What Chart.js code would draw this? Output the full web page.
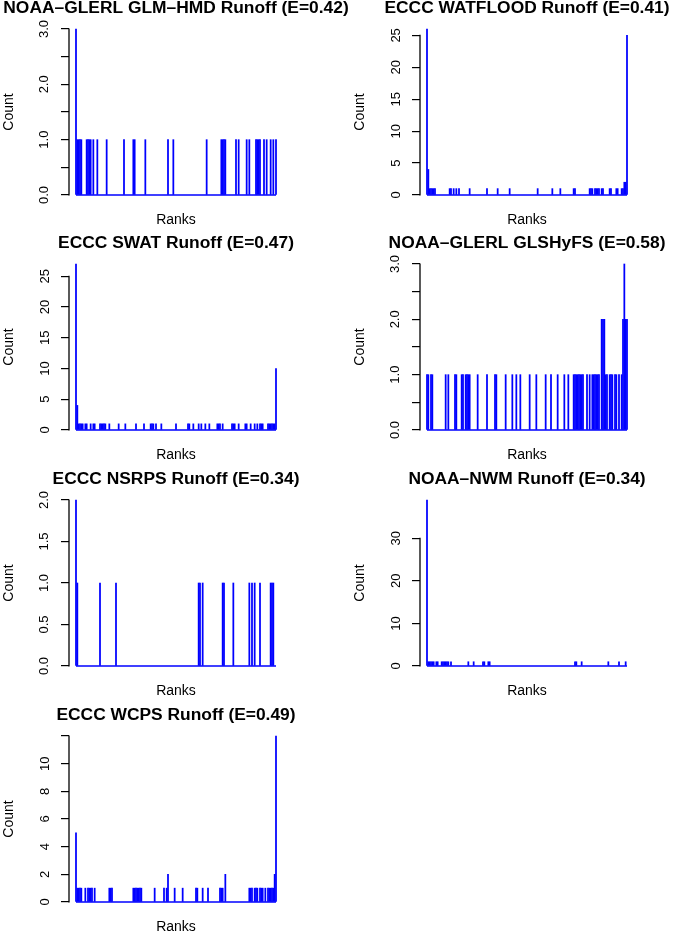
<!DOCTYPE html>
<html>
<head>
<meta charset="utf-8">
<script src="https://cdn.jsdelivr.net/npm/chart.js@4.4.1/dist/chart.umd.min.js"></script>
<style>
html, body { margin: 0; padding: 0; background: #fff; width: 673px; height: 933px; overflow: hidden; position: relative; }
canvas { position: absolute; }
</style>
</head>
<body>
<canvas id="c1" width="392" height="236"></canvas>
<canvas id="c2" width="392" height="236"></canvas>
<canvas id="c3" width="392" height="236"></canvas>
<canvas id="c4" width="392" height="236"></canvas>
<canvas id="c5" width="392" height="236"></canvas>
<canvas id="c6" width="392" height="236"></canvas>
<canvas id="c7" width="392" height="236"></canvas>
<script>
// ranks run 0..150, only the non-empty bins are listed
const lastRank = 150;

const glmRanks = [0,1,2,3,4, 8,9,10,11,13, 16,23,36,43,44, 52,69,73,98,109, 110,111,112,120,122, 128,130,135,136,137, 138,141,143,146,148, 150];
const glmCounts = [3,1,1,1,1, 1,1,1,1,1, 1,1,1,1,1, 1,1,1,1,1, 1,1,1,1,1, 1,1,1,1,1, 1,1,1,1,1, 1];

const watRanks = [0,1,2,3,4, 5,6,17,18,20, 22,24,32,45,53, 62,83,94,100,110, 111,122,123,124,126, 127,128,129,131,132, 137,138,142,143,146, 147,148,149,150];
const watCounts = [26,4,1,1,1, 1,1,1,1,1, 1,1,1,1,1, 1,1,1,1,1, 1,1,1,1,1, 1,1,1,1,1, 1,1,1,1,1, 1,2,2,25];

const swatRanks = [0,1,2,3,4, 5,7,8,11,13, 14,18,19,20,21, 22,25,32,37,45, 51,56,57,58,60, 64,75,84,85,88, 92,94,97,100,106, 107,108,110,117,118, 119,122,127,128,131, 134,136,138,139,140, 144,145,146,147,148, 149,150];
const swatCounts = [27,4,1,1,1, 1,1,1,1,1, 1,1,1,1,1, 1,1,1,1,1, 1,1,1,1,1, 1,1,1,1,1, 1,1,1,1,1, 1,1,1,1,1, 1,1,1,1,1, 1,1,1,1,1, 1,1,1,1,1, 1,10];

const glsRanks = [0,1,3,4,14, 16,21,22,26,27, 29,30,31,32,38, 45,51,52,59,64, 67,70,77,82,89, 93,98,103,106,110, 111,112,113,114,115, 116,117,120,122,124, 125,126,127,128,129, 131,132,133,134,135, 137,138,139,141,142, 144,146,147,148,149, 150];
const glsCounts = [1,1,1,1,1, 1,1,1,1,1, 1,1,1,1,1, 1,1,1,1,1, 1,1,1,1,1, 1,1,1,1,1, 1,1,1,1,1, 1,1,1,1,1, 1,1,1,1,1, 2,2,2,1,1, 1,1,1,1,1, 1,1,2,3,2, 2];

const nsrpsRanks = [0,1,18,30,92, 93,95,110,111,118, 130,132,134,138,146, 147,148];
const nsrpsCounts = [2,1,1,1,1, 1,1,1,1,1, 1,1,1,1,1, 1,1];

const nwmRanks = [0,1,2,3,4, 5,7,8,11,12, 13,14,15,16,18, 31,35,42,43,46, 47,111,112,116,136, 144,149];
const nwmCounts = [39,1,1,1,1, 1,1,1,1,1, 1,1,1,1,1, 1,1,1,1,1, 1,1,1,1,1, 1,1];

const wcpsRanks = [0,1,2,3,4, 7,9,10,11,12, 14,25,26,27,43, 44,45,46,47,48, 49,59,66,68,69, 74,80,90,91,95, 99,108,109,110,112, 130,131,132,134,135, 136,138,139,140,142, 144,145,146,147,148, 149,150];
const wcpsCounts = [5,1,1,1,1, 1,1,1,1,1, 1,1,1,1,1, 1,1,1,1,1, 1,1,1,1,2, 1,1,1,1,1, 1,1,1,1,2, 1,1,1,1,1, 1,1,1,1,1, 1,1,1,1,1, 2,12];

// y axis ticks and their printed labels
const ticksHalf3 = [0, 0.5, 1, 1.5, 2, 2.5, 3];
const labelsHalf3 = ['0.0', '', '1.0', '', '2.0', '', '3.0'];
const ticksFive = [0, 5, 10, 15, 20, 25];
const labelsFive = ['0', '5', '10', '15', '20', '25'];
const ticksHalf2 = [0, 0.5, 1, 1.5, 2];
const labelsHalf2 = ['0.0', '0.5', '1.0', '1.5', '2.0'];
const ticksTen = [0, 10, 20, 30];
const labelsTen = ['0', '10', '20', '30'];
const ticksTwo = [0, 2, 4, 6, 8, 10, 12];
const labelsTwo = ['0', '2', '4', '6', '8', '10', ''];

const titles = [
    'NOAA\u2013GLERL GLM\u2013HMD Runoff (E=0.42)',
    'ECCC WATFLOOD Runoff (E=0.41)',
    'ECCC SWAT Runoff (E=0.47)',
    'NOAA\u2013GLERL GLSHyFS (E=0.58)',
    'ECCC NSRPS Runoff (E=0.34)',
    'NOAA\u2013NWM Runoff (E=0.34)',
    'ECCC WCPS Runoff (E=0.49)'
];

const panels = [
    { id: 'c1', title: titles[0], ranks: glmRanks, counts: glmCounts, yMax: 3, ticks: ticksHalf3, labels: labelsHalf3 },
    { id: 'c2', title: titles[1], ranks: watRanks, counts: watCounts, yMax: 26, ticks: ticksFive, labels: labelsFive },
    { id: 'c3', title: titles[2], ranks: swatRanks, counts: swatCounts, yMax: 27, ticks: ticksFive, labels: labelsFive },
    { id: 'c4', title: titles[3], ranks: glsRanks, counts: glsCounts, yMax: 3, ticks: ticksHalf3, labels: labelsHalf3 },
    { id: 'c5', title: titles[4], ranks: nsrpsRanks, counts: nsrpsCounts, yMax: 2, ticks: ticksHalf2, labels: labelsHalf2 },
    { id: 'c6', title: titles[5], ranks: nwmRanks, counts: nwmCounts, yMax: 39, ticks: ticksTen, labels: labelsTen },
    { id: 'c7', title: titles[6], ranks: wcpsRanks, counts: wcpsCounts, yMax: 12, ticks: ticksTwo, labels: labelsTwo }
];

const colLeft = [-20, 331];
const rowTop = [0, 235, 471, 707];
const FONT = '"Liberation Sans", Arial, Helvetica, sans-serif';
Chart.defaults.font.family = FONT;
Chart.defaults.color = '#000';

// R draws the axis line only between the first and last tick
const axisLine = {
    id: 'axisLine',
    afterDraw(chart) {
        const s = chart.scales.y;
        const ctx = chart.ctx;
        const yA = s.getPixelForValue(s.ticks[0].value);
        const yB = s.getPixelForValue(s.ticks[s.ticks.length - 1].value);
        ctx.save();
        ctx.strokeStyle = '#000';
        ctx.lineWidth = 1.3;
        ctx.beginPath();
        ctx.moveTo(s.right, yA + 0.6);
        ctx.lineTo(s.right, yB - 0.6);
        ctx.stroke();
        ctx.restore();
    }
};

panels.forEach((p, i) => {
    const cv = document.getElementById(p.id);
    cv.style.left = colLeft[i % 2] + 'px';
    cv.style.top = rowTop[Math.floor(i / 2)] + 'px';
    cv.style.width = '392px';
    cv.style.height = '236px';

    new Chart(cv, {
        type: 'line',
        data: {
            datasets: [
                {
                    // zero line across all ranks
                    type: 'line',
                    data: [{ x: 0, y: 0 }, { x: lastRank, y: 0 }],
                    borderColor: '#0000ff',
                    borderWidth: 1.5,
                    pointRadius: 0,
                    clip: false
                },
                {
                    // one spike per rank
                    type: 'bar',
                    data: p.ranks.map((r, k) => ({ x: r, y: p.counts[k] })),
                    backgroundColor: '#0000ff',
                    borderWidth: 0,
                    barThickness: 1.1,
                    grouped: false,
                    clip: false
                }
            ]
        },
        options: {
            responsive: false,
            animation: false,
            devicePixelRatio: 1,
            layout: { padding: 0 },
            plugins: {
                legend: { display: false },
                tooltip: { enabled: false },
                title: {
                    display: true,
                    text: p.title,
                    color: '#000',
                    font: { size: 17.4, weight: 'bold', lineHeight: 1 },
                    padding: { top: 0, bottom: 11.6 }
                }
            },
            scales: {
                x: {
                    type: 'linear',
                    min: -5.25,
                    max: lastRank + 5.25,
                    offset: false,
                    ticks: { display: false },
                    grid: { display: false },
                    border: { display: false },
                    title: { display: true, text: 'Ranks', color: '#000', font: { size: 14 }, padding: { top: 0, bottom: 7 } },
                    afterFit: s => { s.height = 41; }
                },
                y: {
                    type: 'linear',
                    min: 0,
                    max: p.yMax,
                    afterBuildTicks: s => { s.ticks = p.ticks.map(v => ({ value: v })); },
                    ticks: {
                        autoSkip: false,
                        minRotation: 90,
                        maxRotation: 90,
                        crossAlign: 'center',
                        padding: 8,
                        color: '#000',
                        font: { size: 13 },
                        callback: (v, idx) => p.labels[idx]
                    },
                    grid: { display: true, drawOnChartArea: false, drawTicks: true, tickLength: 8, color: '#000', lineWidth: 1.2 },
                    border: { display: false },
                    title: { display: true, text: 'Count', color: '#000', font: { size: 14 }, padding: { top: 20.6, bottom: 0 } },
                    afterFit: s => { s.width = 89; }
                },
                y2: {
                    type: 'linear',
                    position: 'right',
                    display: true,
                    ticks: { display: false },
                    grid: { display: false },
                    border: { display: false },
                    afterFit: s => { s.width = 89; }
                }
            }
        },
        plugins: [axisLine]
    });
});
</script>
</body>
</html>
